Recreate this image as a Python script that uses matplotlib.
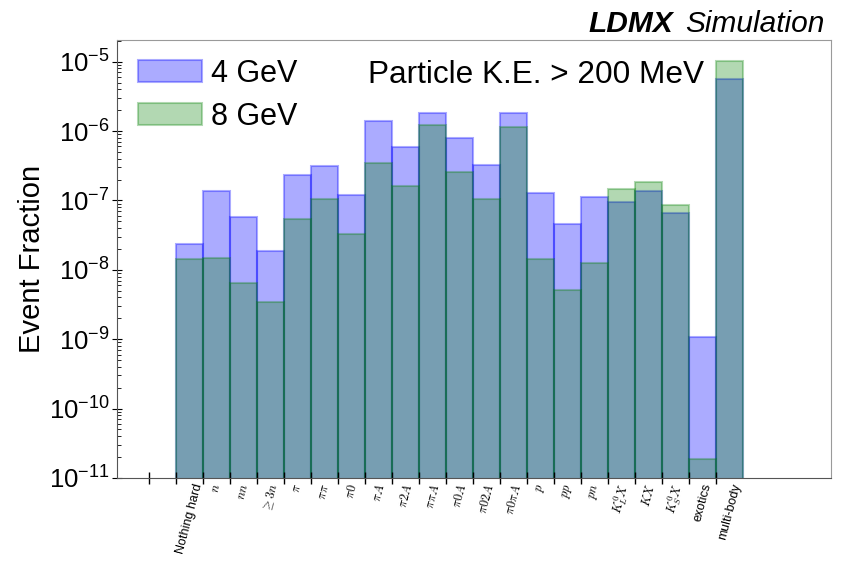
import numpy as np
import matplotlib
matplotlib.use("Agg")
import matplotlib.pyplot as plt
from matplotlib.ticker import LogLocator, NullFormatter, FixedLocator

# Final-state categories (x axis)
categories = [
    "Nothing hard", r"$n$", r"$nn$", r"$\geq 3n$", r"$\pi$", r"$\pi\pi$",
    r"$\pi0$", r"$\pi A$", r"$\pi 2A$", r"$\pi\pi A$", r"$\pi0 A$",
    r"$\pi0 2A$", r"$\pi0\pi A$", r"$p$", r"$pp$", r"$pn$",
    r"$K^0_L X$", r"$K X$", r"$K^0_S X$", "exotics", "multi-body",
]

# Event fractions per category
frac_4gev = [
    2.37e-8, 1.35e-7, 5.74e-8, 1.88e-8, 2.30e-7, 3.10e-7,
    1.18e-7, 1.40e-6, 5.90e-7, 1.79e-6, 7.81e-7,
    3.21e-7, 1.79e-6, 1.28e-7, 4.61e-8, 1.12e-7,
    9.46e-8, 1.35e-7, 6.56e-8, 1.06e-9, 5.62e-6,
]
frac_8gev = [
    1.42e-8, 1.50e-8, 6.53e-9, 3.47e-9, 5.32e-8, 1.06e-7,
    3.23e-8, 3.51e-7, 1.61e-7, 1.22e-6, 2.57e-7,
    1.06e-7, 1.15e-6, 1.42e-8, 5.18e-9, 1.26e-8,
    1.44e-7, 1.84e-7, 8.67e-8, 1.85e-11, 1.03e-5,
]

plt.rcParams["font.family"] = ["Liberation Sans", "DejaVu Sans"]

W, H = 842, 563
fig = plt.figure(figsize=(W / 100, H / 100), dpi=100)
ax = fig.add_axes([117 / W, 1 - 478 / H, (831 - 117) / W, (478 - 40) / H])

x = np.arange(len(categories))
ax.bar(x, frac_4gev, width=1.0, align="edge", color="blue", edgecolor="blue",
       alpha=0.33, linewidth=1.5, label="4 GeV")
ax.bar(x, frac_8gev, width=1.0, align="edge", color="green", edgecolor="green",
       alpha=0.3, linewidth=1.5, label="8 GeV")

ax.set_yscale("log")
ax.set_ylim(1e-11, 2.05e-5)
ax.set_xlim(-2.19, 24.26)

# Bin edges as major ticks, category names centred in each bin
ax.xaxis.set_major_locator(FixedLocator(np.arange(-1, len(categories))))
ax.xaxis.set_major_formatter(NullFormatter())
ax.xaxis.set_minor_locator(FixedLocator(x + 0.5))
ax.set_xticklabels(categories, minor=True, rotation=75, fontsize=9)
for lbl in ax.get_xticklabels(minor=True):
    lbl.set_math_fontfamily("cm")
ax.tick_params(axis="x", which="major", direction="inout", length=9, width=1)
ax.tick_params(axis="x", which="minor", length=0, pad=3)

ax.yaxis.set_major_locator(LogLocator(base=10, numticks=20))
ax.yaxis.set_minor_locator(LogLocator(base=10, subs=np.arange(2, 10), numticks=20))
ax.yaxis.set_minor_formatter(NullFormatter())
ax.tick_params(axis="y", which="major", direction="inout", length=7, labelsize=18.5, pad=2)
ax.tick_params(axis="y", which="minor", direction="in", length=3)

for side in ("left", "bottom"):
    ax.spines[side].set_color("#555555")
for side in ("top", "right"):
    ax.spines[side].set_color("#9a9a9a")

ax.legend(loc="upper left", bbox_to_anchor=(138 / W, 1 - 59 / H),
          bbox_transform=fig.transFigure, frameon=False, fontsize=22,
          handlelength=2.1, handleheight=0.72, labelspacing=0.42,
          handletextpad=0.3, borderpad=0, borderaxespad=0)

fig.text(368 / W, 1 - 83 / H, "Particle K.E. > 200 MeV", fontsize=22.7,
         ha="left", va="baseline")

fig.text(32.5 / W, 1 - 259 / H, "Event Fraction", rotation=90, fontsize=21,
         ha="center", va="center")

fig.text(673 / W, 1 - 32 / H, "LDMX", fontsize=21.5, fontweight="bold",
         fontstyle="italic", ha="right", va="baseline")
fig.text(825 / W, 1 - 32 / H, "Simulation", fontsize=21.5, fontstyle="italic",
         ha="right", va="baseline")

fig.savefig("out.png", dpi=100)
